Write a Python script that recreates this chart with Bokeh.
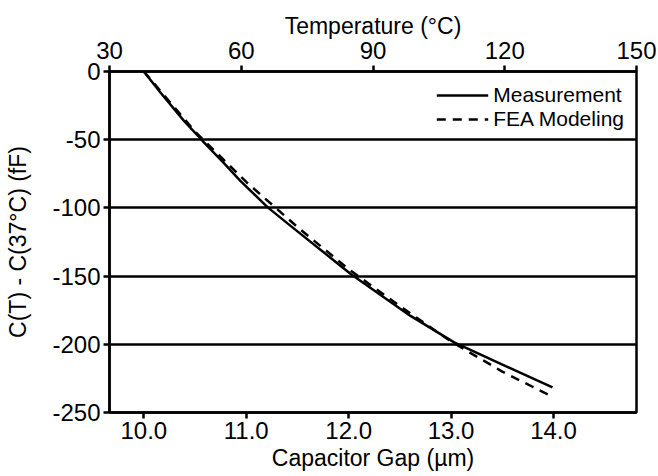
from bokeh.plotting import figure
from bokeh.models import (LinearAxis, Range1d, FixedTicker, PrintfTickFormatter,
                          Legend, LegendItem)
from bokeh.embed import file_html
from bokeh.resources import INLINE

# Data
meas_gap = [10.0, 10.16, 10.39, 10.57, 10.78, 10.94, 11.21, 11.43, 12.02, 12.60, 13.03, 13.49, 13.99]
meas_c = [0, -15.2, -36, -50.6, -67, -80, -99.6, -113, -148.4, -179, -198.6, -214.5, -231.6]
fea_gap = [10.0, 10.5, 11.0, 11.5, 12.0, 12.5, 13.0, 13.5, 13.95]
fea_c = [0, -44, -81, -114, -145, -172, -198, -220, -237]
gap_ticks = [10.0, 11.0, 12.0, 13.0, 14.0]
temp_ticks = [30, 60, 90, 120, 150]
c_ticks = [-250, -200, -150, -100, -50, 0]
grid_ticks = [-200, -150, -100, -50]

FONT = "Liberation Sans"

p = figure(width=658, height=476, output_backend="svg", toolbar_location=None,
           x_range=Range1d(9.665, 14.81), y_range=Range1d(-250, 0),
           min_border_left=109, min_border_right=22, min_border_top=71,
           min_border_bottom=64, background_fill_color="white",
           border_fill_color="white")
p.extra_x_ranges = {"temp": Range1d(30, 150)}

l1 = p.line(meas_gap, meas_c, line_color="black", line_width=2.5)
l2 = p.line(fea_gap, fea_c, line_color="black", line_width=2.5, line_dash="9 7")

p.xgrid.visible = False
p.ygrid.ticker = FixedTicker(ticks=grid_ticks)
p.ygrid.grid_line_color = "black"
p.ygrid.grid_line_width = 2.5
p.ygrid.grid_line_alpha = 1.0

p.outline_line_color = "black"
p.outline_line_width = 2.5
p.outline_line_alpha = 1.0


def style(ax):
    ax.axis_line_color = "black"
    ax.axis_line_width = 2.5
    ax.major_tick_line_color = "black"
    ax.major_tick_line_width = 2.5
    ax.major_tick_out = 6
    ax.major_tick_in = 0
    ax.minor_tick_line_color = None
    ax.major_label_text_font = FONT
    ax.major_label_text_font_size = "24px"
    ax.major_label_text_color = "black"
    ax.axis_label_text_font = FONT
    ax.axis_label_text_font_size = "23px"
    ax.axis_label_text_font_style = "normal"
    ax.axis_label_text_color = "black"


xb = p.xaxis[0]
xb.ticker = FixedTicker(ticks=gap_ticks)
xb.formatter = PrintfTickFormatter(format="%.1f")
xb.axis_label = "Capacitor Gap (µm)"
style(xb)
xb.major_label_standoff = 3
xb.axis_label_standoff = 3

yl = p.yaxis[0]
yl.ticker = FixedTicker(ticks=c_ticks)
yl.formatter = PrintfTickFormatter(format="%d")
yl.axis_label = "C(T) - C(37°C) (fF)"
style(yl)
yl.major_label_standoff = 3
yl.axis_label_standoff = 18

xt = LinearAxis(x_range_name="temp", axis_label="Temperature (°C)")
xt.ticker = FixedTicker(ticks=temp_ticks)
style(xt)
xt.major_label_standoff = 7
xt.axis_label_standoff = 0
p.add_layout(xt, "above")

legend = Legend(items=[LegendItem(label="Measurement", renderers=[l1]),
                       LegendItem(label="FEA Modeling", renderers=[l2])],
                location="top_right")
legend.border_line_color = None
legend.background_fill_alpha = 0
legend.label_text_font = FONT
legend.label_text_font_size = "21px"
legend.label_text_color = "black"
legend.glyph_width = 52
legend.glyph_height = 18
legend.label_standoff = 5
legend.spacing = 0
legend.padding = 4
legend.margin = 12
p.add_layout(legend)

open("out.html", "w").write(file_html(p, INLINE))
